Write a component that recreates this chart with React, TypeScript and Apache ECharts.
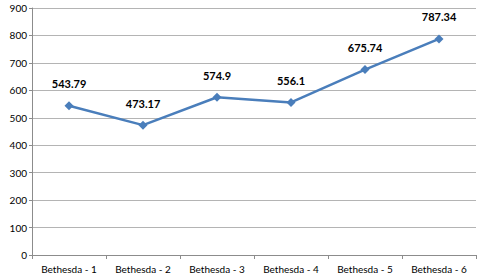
import React, { useEffect, useRef } from "react";
import * as echarts from "echarts";

const categories = ["Bethesda - 1", "Bethesda - 2", "Bethesda - 3", "Bethesda - 4", "Bethesda - 5", "Bethesda - 6"];
const values = [543.79, 473.17, 574.9, 556.1, 675.74, 787.34];
const yMin = 0;
const yMax = 900;
const yInterval = 100;

const FONT = "Lato, 'Open Sans', sans-serif";

export default function App() {
  const ref = useRef<HTMLDivElement>(null);
  useEffect(() => {
    if (!ref.current) return;
    const chart = echarts.init(ref.current, null, { renderer: "svg" });
    chart.setOption({
      animation: false,
      backgroundColor: "#ffffff",
      grid: { left: 32, right: 4, top: 8, bottom: 20, containLabel: false },
      xAxis: {
        type: "category",
        data: categories,
        boundaryGap: true,
        axisLine: { lineStyle: { color: "#8c8c8c", width: 1 } },
        axisTick: { show: true, length: 4, alignWithLabel: false, lineStyle: { color: "#8c8c8c" } },
        axisLabel: { color: "#000000", fontSize: 10, fontFamily: FONT, margin: 9, interval: 0 },
        splitLine: { show: false },
      },
      yAxis: {
        type: "value",
        min: yMin,
        max: yMax,
        interval: yInterval,
        axisLine: { show: true, lineStyle: { color: "#8c8c8c", width: 1 } },
        axisTick: { show: true, length: 3, lineStyle: { color: "#8c8c8c" } },
        axisLabel: { color: "#000000", fontSize: 10, fontFamily: FONT, margin: 5 },
        splitLine: { show: true, lineStyle: { color: "#b4b4b4", width: 1 } },
      },
      series: [
        {
          type: "line",
          data: values,
          symbol: "diamond",
          symbolSize: 9,
          itemStyle: { color: "#4a7ebb" },
          lineStyle: { color: "#4a7ebb", width: 2.5 },
          label: {
            show: true,
            position: "top",
            distance: 12,
            color: "#000000",
            fontWeight: "bold",
            fontSize: 11,
            fontFamily: FONT,
          },
        },
      ],
    });
    return () => chart.dispose();
  }, []);
  return (
    <div
      ref={ref}
      style={{ position: "fixed", left: 0, top: 0, width: 480, height: 275 }}
    />
  );
}
